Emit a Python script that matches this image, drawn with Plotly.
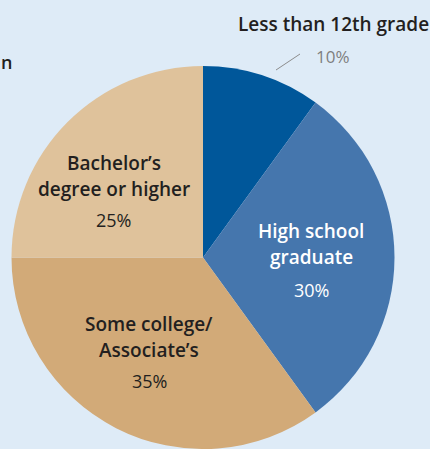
import plotly.graph_objects as go

categories = ["Less than 12th grade", "High school graduate", "Some college/Associate's", "Bachelor's degree or higher"]
values = [10, 30, 35, 25]
colors = ["#00579a", "#4576ad", "#d2aa78", "#dfc29b"]

W, H = 430, 449
BG = "#deebf7"
FONT = "Open Sans"
DARK = "#231f20"

fig = go.Figure(go.Pie(
    labels=categories, values=values, sort=False, direction="clockwise", rotation=0,
    marker=dict(colors=colors, line=dict(width=0)),
    textinfo="none", hoverinfo="label+percent", showlegend=False,
    domain=dict(x=[11 / W, 395 / W], y=[0, (H - 66) / H]),
))

def px(x, y):
    return x / W, 1 - y / H

anns = []
def add(text, x, y, size=19, color=DARK, bold=True):
    ax, ay = px(x, y)
    anns.append(dict(text=text, x=ax, y=ay, xref="paper", yref="paper",
                     showarrow=False, xanchor="center", yanchor="middle",
                     font=dict(family=FONT, size=size, color=color, weight=600 if bold else 400)))

add("Less than 12th grade", 333, 24)
add(f"{values[0]}%", 333, 56, size=17, color="#7f7f7f", bold=False)
add("Bachelor’s", 114, 163)
add("degree or higher", 114, 189)
add(f"{values[3]}%", 114, 220, size=18, bold=False)
add("High school", 311, 231, color="white")
add("graduate", 311, 257, color="white")
add(f"{values[1]}%", 311, 290, size=18, color="white", bold=False)
add("Some college/", 149, 324)
add("Associate’s", 149, 350)
add(f"{values[2]}%", 149, 381, size=18, bold=False)
ax, ay = px(0, 62)
anns.append(dict(text="n", x=0, y=ay, xref="paper", yref="paper", showarrow=False,
                 xanchor="left", yanchor="middle", xshift=-1,
                 font=dict(family=FONT, size=18, color=DARK, weight=600)))

fig.update_layout(
    width=W, height=H, margin=dict(l=0, r=0, t=0, b=0),
    paper_bgcolor=BG, plot_bgcolor=BG, annotations=anns,
    shapes=[dict(type="line", xref="paper", yref="paper",
                 x0=276 / W, y0=1 - 70 / H, x1=300 / W, y1=1 - 54 / H,
                 line=dict(color="#8c8c8c", width=1))],
)
fig.write_html("out.html", config={"displayModeBar": False},
               post_script="document.body.style.margin='0';document.body.style.overflow='hidden';document.body.style.background='" + BG + "';")
